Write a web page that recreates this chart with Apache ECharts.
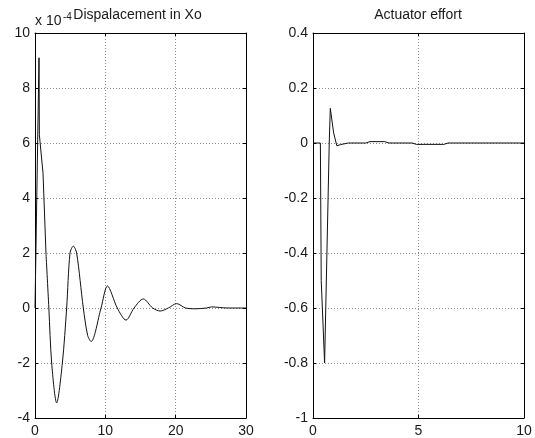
<!DOCTYPE html>
<html>
<head>
<meta charset="utf-8">
<script src="https://cdn.jsdelivr.net/npm/echarts@6/dist/echarts.min.js"></script>
<style>
html, body { margin: 0; padding: 0; background: #fff; }
#chart { width: 535px; height: 438px; }
</style>
</head>
<body>
<div id="chart"></div>
<script>
// Displacement in Xo (units of 1e-4), sampled against time
const dispTime  = [0, 0.2, 0.57, 0.62, 1.14, 1.56, 1.97, 2.37, 3.08, 3.89, 4.5, 4.98, 5.45, 5.92, 6.87, 7.49, 7.97, 9.39, 10.3, 11.7, 12.94, 14.08, 15.4, 16.73, 17.8, 18.96, 20.14, 21.4, 22.7, 24.4, 25.1, 27.4, 30];
const dispValue = [0, 0, 9.1, 6.3, 4.9, 2.0, 0, -2.0, -3.45, -2.0, 0, 2.0, 2.25, 2.0, 0, -1.0, -1.22, 0, 0.8, 0, -0.44, 0, 0.33, 0, -0.11, 0, 0.16, 0, -0.03, 0, 0.04, 0, 0];
// index where the initial kick ends and the damped oscillation begins
const dispKickEnd = 5;

// Actuator effort against time
const effortTime  = [0, 0.35, 0.39, 0.55, 0.77, 0.82, 0.98, 1.13, 1.3, 1.67, 2.5, 2.7, 3.4, 3.6, 4.7, 4.9, 6.2, 6.4, 10];
const effortValue = [0, 0, -0.5, -0.8, 0, 0.126, 0.036, -0.01, -0.006, 0, 0, 0.005, 0.005, 0, 0, -0.005, -0.005, 0, 0];

// Axis ranges and tick spacing
const dispX = { min: 0, max: 30, interval: 10 };
const dispY = { min: -4, max: 10, interval: 2 };
const effortX = { min: 0, max: 10, interval: 5 };
const effortY = { min: -1, max: 0.4, interval: 0.2 };

const titles = ['Dispalacement in Xo', 'Actuator effort'];
const scaleText = ['x 10', '-4'];

const FONT = 'Liberation Sans, Arial, sans-serif';
const INK = '#1a1a1a';

function pairs(xs, ys, from, to) {
  const out = [];
  for (let i = from; i < to; i++) out.push([xs[i], ys[i]]);
  return out;
}

function fmt(v) {
  const r = Math.round(v * 10) / 10;
  return r === 0 ? '0' : String(r);
}

function xAxes(gridIndex, r) {
  const base = {
    type: 'value', gridIndex, min: r.min, max: r.max, interval: r.interval,
    axisLine: { show: true, onZero: false, lineStyle: { color: '#000', width: 1 } },
    axisTick: { show: true, inside: true, length: 3, lineStyle: { color: '#000' } },
  };
  return [
    Object.assign({}, base, {
      position: 'bottom',
      axisLabel: { show: true, fontSize: 14, fontFamily: FONT, color: INK, margin: 6, formatter: fmt },
      splitLine: { show: true, lineStyle: { type: [1, 2], color: '#8c8c8c', width: 1 } }
    }),
    Object.assign({}, base, {
      position: 'top',
      axisLabel: { show: false },
      splitLine: { show: false }
    })
  ];
}

function yAxes(gridIndex, r) {
  const base = {
    type: 'value', gridIndex, min: r.min, max: r.max, interval: r.interval,
    axisLine: { show: true, onZero: false, lineStyle: { color: '#000', width: 1 } },
    axisTick: { show: true, inside: true, length: 3, lineStyle: { color: '#000' } },
  };
  return [
    Object.assign({}, base, {
      position: 'left',
      axisLabel: { show: true, fontSize: 14, fontFamily: FONT, color: INK, margin: 5, formatter: fmt },
      splitLine: { show: true, lineStyle: { type: [1, 2], color: '#8c8c8c', width: 1 } }
    }),
    Object.assign({}, base, {
      position: 'right',
      axisLabel: { show: false },
      splitLine: { show: false }
    })
  ];
}

const lineStyle = { color: '#111', width: 1 };

const option = {
  animation: false,
  backgroundColor: '#fff',
  grid: [
    { left: 35, top: 33, width: 211, height: 385 },
    { left: 313, top: 33, width: 211, height: 385 }
  ],
  xAxis: [].concat(xAxes(0, dispX), xAxes(1, effortX)),
  yAxis: [].concat(yAxes(0, dispY), yAxes(1, effortY)),
  series: [
    {
      type: 'line', xAxisIndex: 0, yAxisIndex: 0, showSymbol: false, smooth: false,
      lineStyle, data: pairs(dispTime, dispValue, 0, dispKickEnd + 1)
    },
    {
      type: 'line', xAxisIndex: 0, yAxisIndex: 0, showSymbol: false, smooth: 0.3,
      lineStyle, data: pairs(dispTime, dispValue, dispKickEnd, dispTime.length)
    },
    {
      type: 'line', xAxisIndex: 2, yAxisIndex: 2, showSymbol: false, smooth: false,
      lineStyle, data: pairs(effortTime, effortValue, 0, effortTime.length)
    }
  ],
  graphic: [
    { type: 'text', x: 35, y: 21, style: { text: scaleText[0], font: '14px ' + FONT, fill: INK, align: 'left', verticalAlign: 'middle' } },
    { type: 'text', x: 63, y: 17, style: { text: scaleText[1], font: '10px ' + FONT, fill: INK, align: 'left', verticalAlign: 'middle' } },
    { type: 'text', x: 137.5, y: 15.5, style: { text: titles[0], font: '14px ' + FONT, fill: INK, align: 'center', verticalAlign: 'middle' } },
    { type: 'text', x: 418, y: 15.5, style: { text: titles[1], font: '14px ' + FONT, fill: INK, align: 'center', verticalAlign: 'middle' } }
  ]
};

const chart = echarts.init(document.getElementById('chart'), null, { renderer: 'canvas' });
chart.setOption(option);
</script>
</body>
</html>
